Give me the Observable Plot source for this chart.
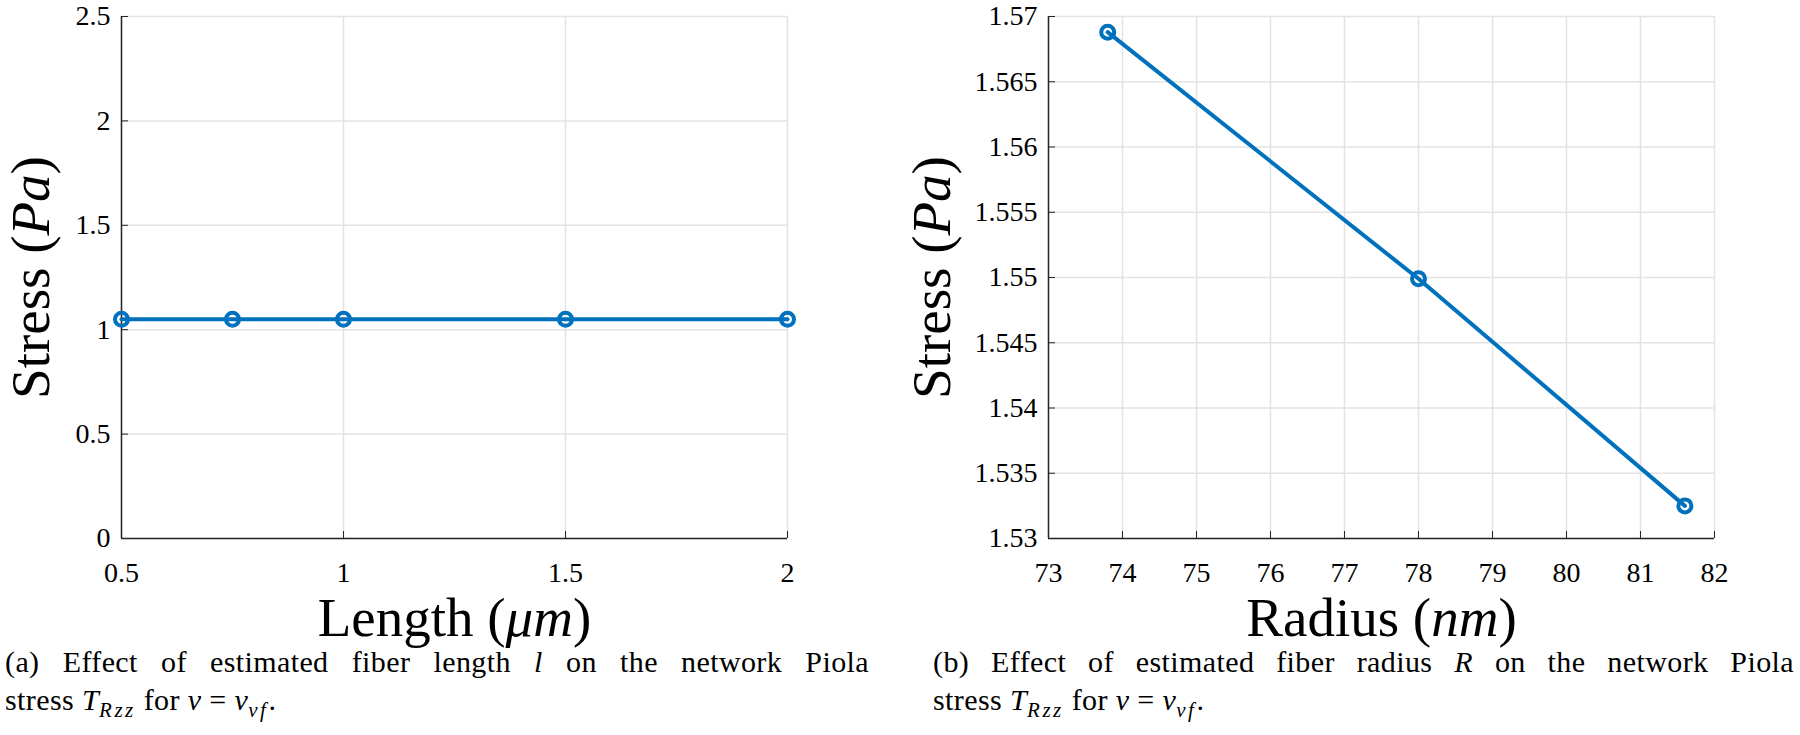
<!DOCTYPE html>
<html><head><meta charset="utf-8">
<script src="https://cdn.jsdelivr.net/npm/d3@7"></script>
<script src="https://cdn.jsdelivr.net/npm/@observablehq/plot@0.6"></script>
<style>
body{margin:0;background:#fff;width:1800px;height:735px;overflow:hidden;font-family:"Liberation Serif",serif;color:#000;}
#wrap{display:flex;}
.fig{width:900px;}
.fig svg{display:block;overflow:visible;}
.cap{font-family:"Liberation Serif",serif;font-size:30px;line-height:38px;margin-top:-9px;letter-spacing:0.4px;}
.cap .l1{text-align:justify;text-align-last:justify;}
.cap sub{font-size:21px;line-height:0;vertical-align:-7px;letter-spacing:2.5px;}
</style></head>
<body><div id="wrap">
<div class="fig" id="figA"></div>
<div class="fig" id="figB"></div>
</div>
<script>
// Panel (a): stress vs fiber length
const lengthUm = [0.5, 0.75, 1, 1.5, 2];
const stressA = [1.05, 1.05, 1.05, 1.05, 1.05];
const xTicksA = [0.5, 1, 1.5, 2];
const yTicksA = [0, 0.5, 1, 1.5, 2, 2.5];

// Panel (b): stress vs fiber radius
const radiusNm = [73.8, 78.0, 81.6];
const stressB = [1.5688, 1.5499, 1.5325];
const xTicksB = [73, 74, 75, 76, 77, 78, 79, 80, 81, 82];
const yTicksB = [1.53, 1.535, 1.54, 1.545, 1.55, 1.555, 1.56, 1.565, 1.57];

const BLUE = "#0072BD";
const AX = "#262626";
const GRID = "#e3e3e3";

function setLabel(svg, which, parts) {
  const t = svg.querySelector(`g[aria-label="${which}-axis label"] text`);
  if (!t) return;
  t.setAttribute("font-size", "55");
  t.textContent = "";
  for (const [s, it] of parts) {
    const ts = document.createElementNS("http://www.w3.org/2000/svg", "tspan");
    ts.textContent = s;
    if (it) ts.setAttribute("font-style", "italic");
    t.appendChild(ts);
  }
}

function panel(xs, ys, xTicks, yTicks, opts) {
  const data = xs.map((x, i) => ({x, y: ys[i]}));
  const fmt = d3.format("~g");
  const svg = Plot.plot({
    width: 900, height: 652,
    marginTop: 16, marginBottom: 114,
    marginLeft: opts.marginLeft, marginRight: opts.marginRight,
    style: {fontFamily: "Liberation Serif", fontSize: "28px", color: "#000", background: "white", overflow: "visible"},
    x: {domain: [xTicks[0], xTicks[xTicks.length - 1]]},
    y: {domain: [yTicks[0], yTicks[yTicks.length - 1]]},
    marks: [
      Plot.gridX(xTicks, {stroke: GRID, strokeOpacity: 1, strokeWidth: 1.5}),
      Plot.gridY(yTicks, {stroke: GRID, strokeOpacity: 1, strokeWidth: 1.5}),
      Plot.ruleY([yTicks[0]], {stroke: AX, strokeWidth: 1.5}),
      Plot.ruleX([xTicks[0]], {stroke: AX, strokeWidth: 1.5}),
      Plot.axisX(xTicks, {tickSize: -7, tickPadding: 7 + 24, tickFormat: fmt, stroke: AX,
        label: "X", labelAnchor: "center", labelOffset: 97}),
      Plot.axisY(yTicks, {tickSize: -7, tickPadding: 7 + 11, tickFormat: fmt, stroke: AX,
        label: "Y", labelAnchor: "center", labelOffset: opts.yLabelOffset}),
      Plot.line(data, {x: "x", y: "y", stroke: BLUE, strokeWidth: 4}),
      Plot.dot(data, {x: "x", y: "y", r: 6.5, stroke: BLUE, strokeWidth: 4, fill: "none"})
    ]
  });
  setLabel(svg, "x", opts.xLabel);
  setLabel(svg, "y", [["Stress (", false], ["Pa", true], [")", false]]);
  return svg;
}

const figA = document.getElementById("figA");
figA.appendChild(panel(lengthUm, stressA, xTicksA, yTicksA, {
  marginLeft: 121, marginRight: 113, yLabelOffset: 112,
  xLabel: [["Length (", false], ["\u03bcm", true], [")", false]]
}));
figA.insertAdjacentHTML("beforeend",
  `<div class="cap" style="padding-left:5px;width:864px">
    <div class="l1">(a) Effect of estimated fiber length <i>l</i> on the network Piola</div>
    <div>stress <i>T</i><sub><i>Rzz</i></sub> for <i>\u03bd</i> = <i>\u03bd</i><sub><i>vf</i></sub>.</div>
  </div>`);

const figB = document.getElementById("figB");
figB.appendChild(panel(radiusNm, stressB, xTicksB, yTicksB, {
  marginLeft: 148, marginRight: 86, yLabelOffset: 138,
  xLabel: [["Radius (", false], ["nm", true], [")", false]]
}));
figB.insertAdjacentHTML("beforeend",
  `<div class="cap" style="padding-left:33px;width:861px">
    <div class="l1">(b) Effect of estimated fiber radius <i>R</i> on the network Piola</div>
    <div>stress <i>T</i><sub><i>Rzz</i></sub> for <i>\u03bd</i> = <i>\u03bd</i><sub><i>vf</i></sub>.</div>
  </div>`);
</script>
</body></html>
